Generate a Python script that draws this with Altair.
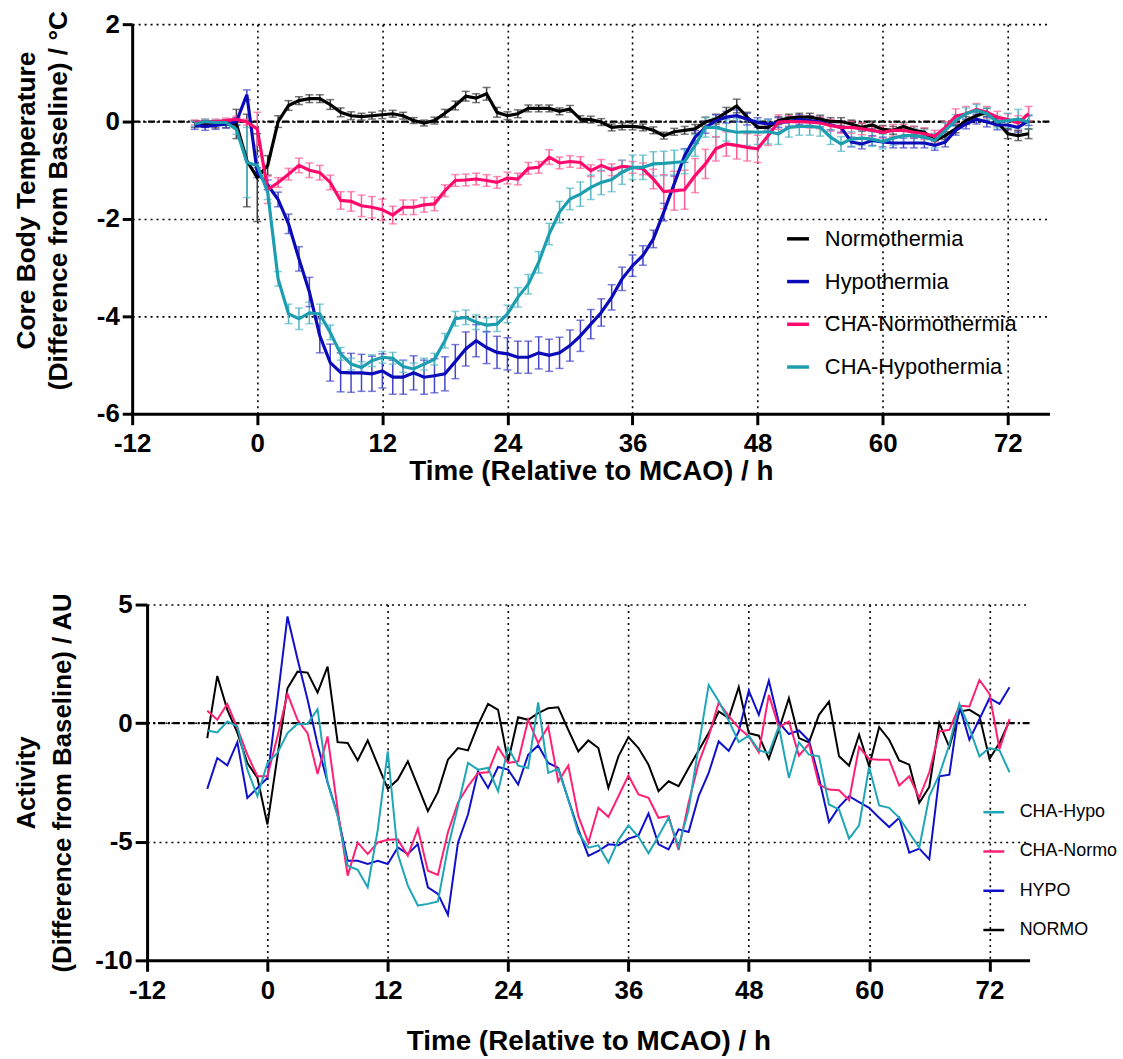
import altair as alt
import pandas as pd

FONT = "Liberation Sans"

HOURS = list(range(-6, 75))
X_TICKS = [-12, 0, 12, 24, 36, 48, 60, 72]
TOP_Y_TICKS = [2, 0, -2, -4, -6]
BOT_Y_TICKS = [5, 0, -5, -10]
ZERO = [0]

TOP_SERIES = ["Normothermia", "Hypothermia", "CHA-Normothermia", "CHA-Hypothermia"]
TOP_COLORS = ["#000000", "#0A0AB9", "#FF0A6C", "#1C9DB0"]
TOP_ERR_COLORS = ["#3C3C3C", "#4444CC", "#FF5C97", "#52B6C4"]

NORMO_T = [-0.05, -0.05, -0.06, -0.05, -0.05, -0.80, -1.15, -0.90, 0.00, 0.33,
           0.43, 0.47, 0.47, 0.35, 0.19, 0.12, 0.10, 0.12, 0.14, 0.16,
           0.12, 0.02, -0.03, 0.02, 0.17, 0.33, 0.52, 0.48, 0.57, 0.19,
           0.12, 0.16, 0.27, 0.27, 0.27, 0.21, 0.26, 0.05, 0.04, -0.01,
           -0.12, -0.10, -0.10, -0.12, -0.18, -0.29, -0.21, -0.18, -0.15, -0.01,
           0.05, 0.19, 0.32, 0.09, -0.12, -0.12, 0.02, 0.07, 0.09, 0.09,
           0.05, 0.00, 0.00, -0.05, -0.12, -0.07, -0.16, -0.18, -0.10, -0.18,
           -0.22, -0.39, -0.29, -0.15, 0.02, 0.12, 0.19, -0.01, -0.25, -0.29,
           -0.25]
NORMO_T_SEM = [0.07, 0.07, 0.07, 0.08, 0.30, 0.95, 0.90, 0.20, 0.12, 0.10,
               0.08, 0.08, 0.08, 0.10, 0.09, 0.08, 0.07, 0.07, 0.08, 0.07,
               0.07, 0.06, 0.06, 0.07, 0.08, 0.09, 0.10, 0.09, 0.13, 0.10,
               0.08, 0.08, 0.07, 0.07, 0.07, 0.07, 0.07, 0.07, 0.07, 0.07,
               0.07, 0.07, 0.07, 0.07, 0.07, 0.07, 0.07, 0.08, 0.09, 0.10,
               0.10, 0.10, 0.14, 0.10, 0.10, 0.08, 0.08, 0.08, 0.08, 0.08,
               0.08, 0.08, 0.08, 0.08, 0.08, 0.08, 0.08, 0.08, 0.08, 0.08,
               0.08, 0.08, 0.08, 0.08, 0.08, 0.08, 0.08, 0.08, 0.10, 0.10,
               0.10]

HYPO_T = [-0.08, -0.10, -0.08, -0.05, 0.00, 0.55, -1.05, -1.30, -1.60, -2.10,
          -2.82, -3.50, -4.40, -4.95, -5.15, -5.16, -5.16, -5.18, -5.12, -5.25,
          -5.25, -5.16, -5.25, -5.22, -5.18, -4.93, -4.67, -4.50, -4.64, -4.74,
          -4.77, -4.84, -4.84, -4.75, -4.80, -4.75, -4.60, -4.40, -4.16, -3.92,
          -3.61, -3.23, -2.96, -2.75, -2.41, -1.86, -1.28, -0.70, -0.32, -0.12,
          0.02, 0.09, 0.12, 0.05, -0.02, -0.05, -0.02, 0.00, 0.04, 0.02,
          -0.01, -0.07, -0.12, -0.42, -0.46, -0.39, -0.42, -0.44, -0.44, -0.44,
          -0.44, -0.49, -0.42, -0.18, -0.05, 0.05, -0.01, -0.07, -0.07, -0.12,
          0.02]
HYPO_T_SEM = [0.08, 0.08, 0.08, 0.08, 0.08, 0.10, 0.10, 0.10, 0.15, 0.20,
              0.25, 0.30, 0.35, 0.38, 0.40, 0.40, 0.38, 0.36, 0.35, 0.35,
              0.35, 0.35, 0.35, 0.35, 0.35, 0.35, 0.35, 0.33, 0.33, 0.33,
              0.33, 0.33, 0.33, 0.33, 0.33, 0.32, 0.32, 0.32, 0.30, 0.28,
              0.26, 0.24, 0.22, 0.20, 0.18, 0.18, 0.16, 0.14, 0.13, 0.12,
              0.12, 0.12, 0.12, 0.12, 0.10, 0.10, 0.10, 0.10, 0.10, 0.10,
              0.10, 0.10, 0.10, 0.10, 0.10, 0.10, 0.10, 0.10, 0.10, 0.10,
              0.10, 0.10, 0.10, 0.10, 0.10, 0.10, 0.10, 0.10, 0.10, 0.10,
              0.10]

CHAN_T = [-0.02, 0.00, 0.00, 0.02, 0.05, -0.01, -0.15, -1.40, -1.25, -1.08,
          -0.90, -1.00, -1.05, -1.25, -1.62, -1.64, -1.73, -1.76, -1.81, -1.92,
          -1.76, -1.76, -1.71, -1.69, -1.42, -1.21, -1.20, -1.18, -1.21, -1.25,
          -1.16, -1.18, -0.96, -0.94, -0.73, -0.85, -0.82, -0.84, -1.01, -0.90,
          -0.99, -0.92, -0.94, -0.97, -1.18, -1.44, -1.42, -1.40, -1.11, -0.87,
          -0.56, -0.46, -0.49, -0.53, -0.56, -0.29, -0.01, 0.00, 0.00, -0.01,
          -0.03, -0.08, -0.12, -0.12, -0.15, -0.18, -0.22, -0.18, -0.18, -0.22,
          -0.25, -0.30, -0.12, 0.11, 0.16, 0.25, 0.19, 0.09, 0.04, -0.03,
          0.16]
CHAN_T_SEM = [0.05, 0.05, 0.05, 0.05, 0.06, 0.06, 0.34, 0.28, 0.10, 0.12,
              0.15, 0.15, 0.15, 0.15, 0.18, 0.20, 0.22, 0.22, 0.22, 0.18,
              0.15, 0.15, 0.15, 0.14, 0.12, 0.12, 0.12, 0.12, 0.12, 0.12,
              0.12, 0.12, 0.12, 0.12, 0.15, 0.12, 0.12, 0.12, 0.12, 0.12,
              0.12, 0.12, 0.12, 0.12, 0.20, 0.35, 0.40, 0.40, 0.35, 0.30,
              0.25, 0.25, 0.28, 0.28, 0.28, 0.20, 0.15, 0.12, 0.12, 0.12,
              0.12, 0.12, 0.12, 0.12, 0.12, 0.12, 0.12, 0.12, 0.12, 0.12,
              0.12, 0.12, 0.12, 0.15, 0.15, 0.12, 0.12, 0.12, 0.12, 0.15,
              0.15]

CHAH_T = [-0.05, 0.00, -0.02, -0.02, -0.16, -0.84, -0.90, -1.45, -3.23, -3.95,
          -4.05, -3.93, -3.95, -4.33, -4.77, -4.98, -5.05, -4.91, -4.84, -4.86,
          -5.03, -5.08, -4.98, -4.88, -4.50, -4.05, -4.02, -4.12, -4.18, -4.16,
          -3.95, -3.61, -3.34, -2.89, -2.31, -1.86, -1.59, -1.49, -1.35, -1.25,
          -1.19, -1.04, -0.94, -0.94, -0.87, -0.86, -0.84, -0.82, -0.49, -0.12,
          -0.12, -0.18, -0.22, -0.21, -0.22, -0.21, -0.25, -0.12, -0.10, -0.10,
          -0.12, -0.32, -0.46, -0.36, -0.34, -0.36, -0.41, -0.34, -0.29, -0.29,
          -0.32, -0.39, -0.18, 0.02, 0.16, 0.23, 0.16, -0.01, 0.02, 0.05,
          -0.01]
CHAH_T_SEM = [0.05, 0.05, 0.05, 0.06, 0.10, 0.72, 0.20, 0.15, 0.15, 0.20,
              0.22, 0.22, 0.20, 0.15, 0.13, 0.12, 0.12, 0.12, 0.12, 0.12,
              0.12, 0.12, 0.12, 0.12, 0.15, 0.15, 0.15, 0.15, 0.15, 0.15,
              0.18, 0.20, 0.20, 0.22, 0.22, 0.22, 0.22, 0.25, 0.25, 0.25,
              0.25, 0.25, 0.25, 0.25, 0.25, 0.25, 0.25, 0.25, 0.22, 0.20,
              0.20, 0.22, 0.28, 0.28, 0.25, 0.25, 0.22, 0.20, 0.18, 0.18,
              0.18, 0.15, 0.15, 0.15, 0.15, 0.15, 0.15, 0.15, 0.15, 0.15,
              0.15, 0.15, 0.15, 0.12, 0.12, 0.12, 0.12, 0.12, 0.15, 0.20,
              0.15]

BOT_SERIES = ["CHA-Hypo", "CHA-Normo", "HYPO", "NORMO"]
BOT_COLORS = ["#1FA6B6", "#FF1F73", "#1010CC", "#000000"]

NORMO_A = [-0.63, 1.99, 0.56, -0.40, -1.68, -2.30, -4.27, -1.40, 1.47, 2.17,
           2.13, 1.29, 2.38, -0.80, -0.84, -1.57, -0.73, -1.75, -2.77, -2.38,
           -1.61, -2.66, -3.71, -2.91, -1.54, -1.05, -1.15, -0.07, 0.81, 0.56,
           -1.61, 0.25, 0.14, 0.42, 0.63, 0.67, -0.28, -1.19, -0.73, -1.05,
           -2.73, -1.40, -0.59, -1.05, -1.75, -2.87, -2.45, -2.66, -1.89, -1.15,
           -0.42, 0.49, 0.21, 1.52, -0.42, -0.53, -1.50, -0.28, 1.05, -0.63,
           -0.81, 0.35, 0.91, -1.40, -1.79, -0.49, -1.82, -0.17, -0.70, -1.57,
           -1.75, -3.36, -2.69, 0.00, -1.01, 0.49, 0.56, 0.31, -1.51, -0.84,
           0.11]
HYPO_A = [-2.77, -1.47, -1.78, -0.80, -3.15, -2.73, -2.31, 1.00, 4.50, 2.70,
          1.00, -0.90, -2.50, -3.85, -5.80, -5.80, -5.94, -5.80, -5.94, -5.24,
          -5.52, -5.10, -6.92, -7.20, -8.08, -5.04, -3.85, -2.03, -2.73, -1.85,
          -1.96, -2.59, -1.33, -0.94, -1.68, -1.89, -3.22, -4.48, -5.60, -5.39,
          -5.11, -5.15, -4.87, -4.73, -3.81, -5.11, -5.32, -4.48, -4.59, -3.08,
          -2.10, -0.77, -1.17, -0.35, 1.37, 0.35, 1.79, 0.03, -0.46, -0.31,
          -0.73, -2.31, -4.17, -3.53, -3.08, -3.33, -3.57, -3.99, -4.38, -3.99,
          -5.46, -5.29, -5.74, -2.24, -2.17, 0.73, -0.70, 0.17, 1.05, 0.81,
          1.51]
CHAN_A = [0.52, 0.14, 0.81, -0.21, -1.33, -2.24, -2.24, -0.56, 1.23, 0.14,
          -0.42, -2.14, -0.56, -3.64, -6.43, -5.03, -5.52, -5.03, -4.92, -4.90,
          -5.59, -4.45, -6.22, -6.40, -4.60, -3.35, -2.66, -2.10, -2.07, -1.01,
          -1.68, -1.61, 0.14, -0.84, -0.14, -2.45, -1.79, -3.92, -5.04, -3.57,
          -3.95, -3.08, -2.21, -3.01, -3.15, -3.99, -3.92, -5.35, -3.36, -1.68,
          -0.56, 0.87, 0.30, -0.20, -0.56, -1.23, 1.19, -0.17, 0.07, -1.37,
          -0.87, -2.59, -2.80, -2.83, -3.25, -1.01, -1.51, -1.54, -1.54, -2.63,
          -2.24, -3.15, -2.07, -0.35, -0.28, 0.73, 0.70, 1.82, 1.23, -1.09,
          0.17]
CHAH_A = [-0.31, -0.39, 0.07, -0.14, -1.96, -3.08, -1.68, -1.26, -0.42, -0.03,
          -0.04, 0.59, -2.52, -3.92, -6.01, -6.18, -6.92, -4.50, -1.19, -5.52,
          -6.85, -7.69, -7.62, -7.52, -5.25, -3.50, -1.68, -1.96, -1.89, -2.87,
          -1.05, -1.79, -1.89, 0.87, -2.10, -1.93, -3.22, -4.62, -5.25, -5.15,
          -5.88, -4.93, -4.31, -4.79, -5.49, -4.76, -3.99, -5.21, -3.64, -0.98,
          1.61, 0.92, 0.10, -0.80, -0.53, -1.15, -1.26, -0.14, -2.31, -0.81,
          -1.33, -1.40, -3.43, -3.64, -4.87, -4.31, -1.85, -3.47, -3.57, -3.99,
          -4.62, -5.25, -3.08, -2.17, -0.91, 0.81, -0.21, -1.40, -1.05, -1.15,
          -2.07]

# ---------------- data tables ----------------
top_rows = []
for name, vals, sems, ecol in zip(TOP_SERIES,
                                  [NORMO_T, HYPO_T, CHAN_T, CHAH_T],
                                  [NORMO_T_SEM, HYPO_T_SEM, CHAN_T_SEM, CHAH_T_SEM],
                                  TOP_ERR_COLORS):
    for h, v, s in zip(HOURS, vals, sems):
        top_rows.append({"hour": h, "value": v, "lo": v - s, "hi": v + s,
                         "series": name, "ecolor": ecol})
df_top = pd.DataFrame(top_rows)

bot_rows = []
for name, vals in zip(["NORMO", "HYPO", "CHA-Normo", "CHA-Hypo"],
                      [NORMO_A, HYPO_A, CHAN_A, CHAH_A]):
    for h, v in zip(HOURS, vals):
        bot_rows.append({"hour": h, "value": v, "group": name})
df_bot = pd.DataFrame(bot_rows)
df_zero = pd.DataFrame({"z": ZERO})


def axis(**kw):
    base = dict(grid=True, gridColor="black", gridDash=[2, 4], gridWidth=1.6,
                gridOpacity=1, domainColor="black", domainWidth=3,
                tickColor="black", tickWidth=3, tickSize=10,
                labelFont=FONT, labelFontSize=26, labelFontWeight="bold",
                labelColor="black", titleFont=FONT, titleFontWeight="bold",
                titleColor="black", labelFlush=False, labelOverlap=False,
                labelExpr="'' + datum.value")
    base.update(kw)
    return alt.Axis(**base)


# ---------------- top chart ----------------
W_T, H_T = 923, 392
xs_t = alt.Scale(domain=[-12, 76], nice=False, zero=False)
ys_t = alt.Scale(domain=[-6, 2], nice=False, zero=False)

x_axis_t = axis(values=X_TICKS, title="Time (Relative to MCAO) / h",
                titleFontSize=28, labelPadding=6, titlePadding=1, tickSize=11)
y_axis_t = axis(values=TOP_Y_TICKS,
                title=["Core Body Temperature", "(Difference from Baseline) / °C"],
                titleFontSize=26.5, titleLineHeight=32, labelPadding=3,
                titlePadding=24, titleY=177)

X_T = alt.X("hour:Q", scale=xs_t, axis=x_axis_t)

zero_t = alt.Chart(df_zero).mark_rule(strokeDash=[7, 3, 2, 3], strokeWidth=2.2,
                                      color="black").encode(
    y=alt.Y("z:Q", scale=ys_t, axis=y_axis_t))

err_rule_t = alt.Chart(df_top).mark_rule(strokeWidth=1.5).encode(
    x=X_T,
    y=alt.Y("lo:Q", scale=ys_t, axis=y_axis_t),
    y2="hi:Q",
    color=alt.Color("ecolor:N", scale=None, legend=None))
cap_lo_t = alt.Chart(df_top).mark_tick(orient="horizontal", size=8, thickness=1.5).encode(
    x=X_T,
    y=alt.Y("lo:Q", scale=ys_t, axis=y_axis_t),
    color=alt.Color("ecolor:N", scale=None, legend=None))
cap_hi_t = alt.Chart(df_top).mark_tick(orient="horizontal", size=8, thickness=1.5).encode(
    x=X_T,
    y=alt.Y("hi:Q", scale=ys_t, axis=y_axis_t),
    color=alt.Color("ecolor:N", scale=None, legend=None))

legend_t = alt.Legend(orient="none", legendX=657, legendY=203, title=None,
                      symbolType="stroke", symbolSize=484, symbolStrokeWidth=3.5,
                      labelFont=FONT, labelFontSize=22, labelColor="black",
                      labelOffset=14, rowPadding=19, padding=0, labelLimit=400)
lines_t = alt.Chart(df_top).mark_line(strokeWidth=3.2).encode(
    x=X_T,
    y=alt.Y("value:Q", scale=ys_t, axis=y_axis_t),
    color=alt.Color("series:N", sort=TOP_SERIES,
                    scale=alt.Scale(domain=TOP_SERIES, range=TOP_COLORS),
                    legend=legend_t))

top = alt.layer(zero_t, err_rule_t, cap_lo_t, cap_hi_t, lines_t).resolve_scale(
    color="independent").properties(width=W_T, height=H_T)

# ---------------- bottom chart ----------------
W_B, H_B = 888, 358
xs_b = alt.Scale(domain=[-12, 76], nice=False, zero=False)
ys_b = alt.Scale(domain=[-10, 5], nice=False, zero=False)

x_axis_b = axis(values=X_TICKS, title="Time (Relative to MCAO) / h",
                titleFontSize=28, labelPadding=6, titlePadding=25, tickSize=11)
y_axis_b = axis(values=BOT_Y_TICKS,
                title=["Activity", "(Difference from Baseline) / AU"],
                titleFontSize=26, titleLineHeight=37, labelPadding=3,
                titlePadding=19, tickSize=12)

zero_b = alt.Chart(df_zero).mark_rule(strokeDash=[7, 3, 2, 3], strokeWidth=2.2,
                                      color="black").encode(
    y=alt.Y("z:Q", scale=ys_b, axis=y_axis_b))

legend_b = alt.Legend(orient="none", legendX=840, legendY=197, title=None,
                      symbolType="stroke", symbolSize=441, symbolStrokeWidth=2.5,
                      labelFont=FONT, labelFontSize=18, labelColor="black",
                      labelOffset=14, rowPadding=18.5, padding=0, labelLimit=400)
lines_b = alt.Chart(df_bot).mark_line(strokeWidth=2).encode(
    x=alt.X("hour:Q", scale=xs_b, axis=x_axis_b),
    y=alt.Y("value:Q", scale=ys_b, axis=y_axis_b),
    color=alt.Color("group:N", sort=BOT_SERIES,
                    scale=alt.Scale(domain=BOT_SERIES, range=BOT_COLORS),
                    legend=legend_b))

bottom = alt.layer(zero_b, lines_b).properties(width=W_B, height=H_B)


def spacer():
    return alt.Chart(df_zero).mark_rule(strokeWidth=0, opacity=0).encode(
        x=alt.value(0), y=alt.value(0), y2=alt.value(1)).properties(width=1, height=1)


row_t = alt.hconcat(spacer(), top, spacing=0).resolve_scale(
    color="independent").resolve_legend(color="independent")
row_b = alt.hconcat(spacer(), bottom, spacing=0).resolve_scale(
    color="independent").resolve_legend(color="independent")

chart = alt.vconcat(row_t, row_b, spacing=107).resolve_scale(
    color="independent").resolve_legend(color="independent").properties(
    padding={"left": 12, "top": 7, "right": 5, "bottom": 5},
    background="white"
).configure_view(strokeWidth=0)

chart.save("out.html", embed_options={"renderer": "svg", "actions": False})
